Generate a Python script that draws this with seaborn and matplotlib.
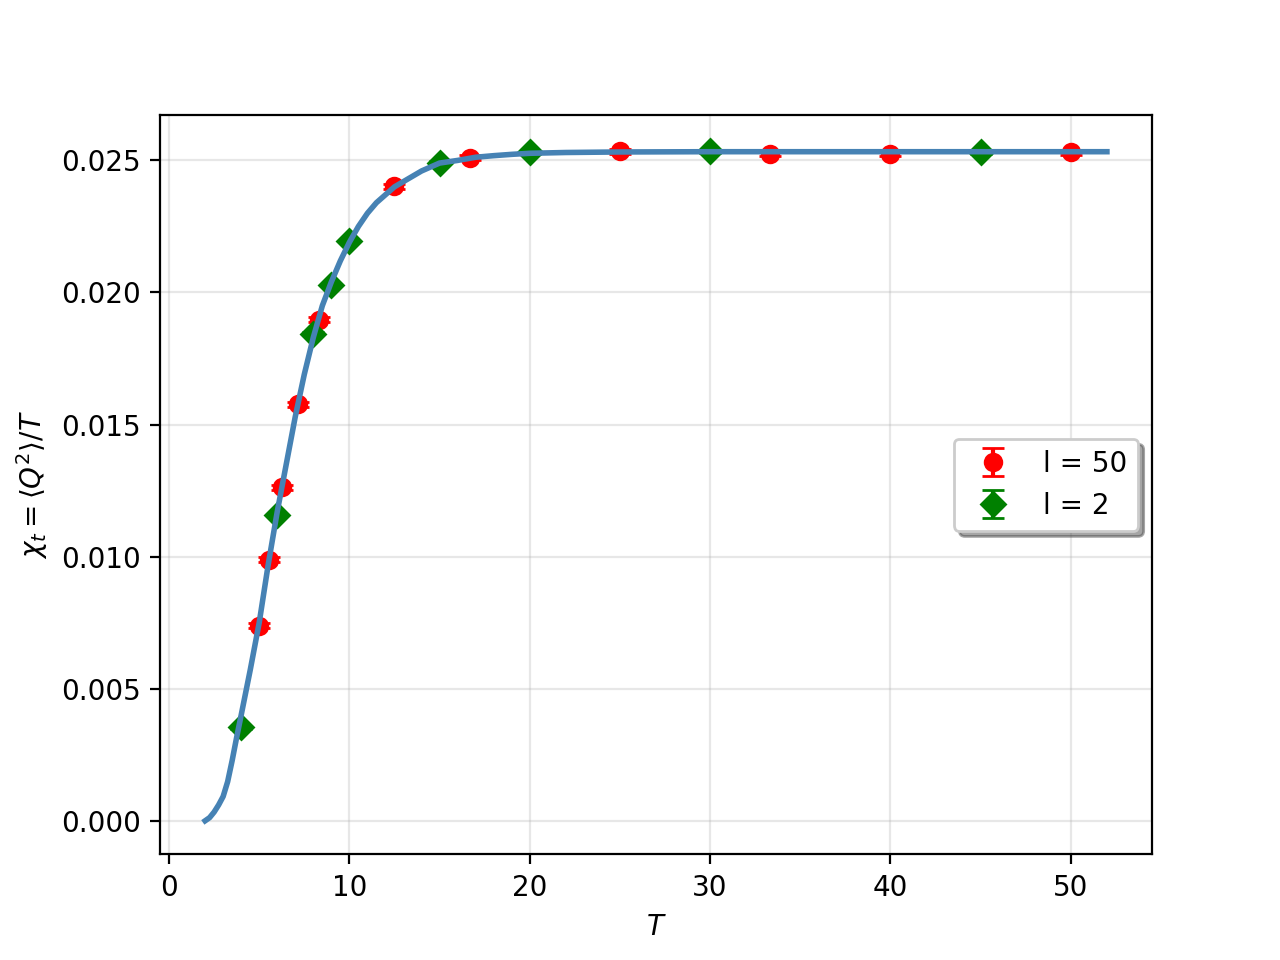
import matplotlib
matplotlib.use('Agg')
import matplotlib.pyplot as plt
import numpy as np
import pandas as pd
import seaborn as sns

# l = 50 measurements
T_50 = [5.0, 5.56, 6.25, 7.14, 8.33, 12.5, 16.67, 25.0, 33.33, 40.0, 50.0]
chi_50 = [0.00739, 0.00988, 0.01263, 0.01576, 0.01897, 0.02402, 0.02511, 0.02534, 0.02526, 0.02526, 0.02530]
err_50 = [0.0001] * len(T_50)

# l = 2 measurements
T_2 = [4.0, 6.0, 8.0, 9.0, 10.0, 15.0, 20.0, 30.0, 45.0]
chi_2 = [0.00354, 0.01158, 0.01844, 0.02029, 0.02195, 0.02492, 0.02530, 0.02534, 0.02530]
err_2 = [0.00005] * len(T_2)

# fit curve
T_fit = [2.0, 2.25, 2.5, 2.75, 3.0, 3.25, 3.5, 3.75, 4.0, 4.5, 5.0, 5.5, 6.0, 6.5, 7.0,
         7.5, 8.0, 8.5, 9.0, 9.5, 10.0, 10.5, 11.0, 11.5, 12.0, 12.5, 13.0, 14.0, 15.0,
         16.0, 17.0, 18.0, 19.0, 20.0, 22.0, 25.0, 30.0, 40.0, 52.0]
chi_fit = [0.0000, 0.00012, 0.00033, 0.00060, 0.00092, 0.00148, 0.00228, 0.00316, 0.00400,
           0.0057, 0.0075, 0.0097, 0.0117, 0.0135, 0.0153, 0.0169, 0.0183, 0.0195, 0.0204,
           0.0212, 0.0219, 0.0225, 0.0230, 0.0234, 0.0237, 0.0240, 0.0242, 0.0246, 0.0249,
           0.0250, 0.02512, 0.02518, 0.02523, 0.02527, 0.0253, 0.02532, 0.02533, 0.02533, 0.02533]

fit = pd.DataFrame({'T': T_fit, 'chi': chi_fit})

fig, ax = plt.subplots(figsize=(6.4, 4.8), dpi=200)

ax.errorbar(T_50, chi_50, yerr=err_50, fmt='o', color='red', capsize=4, label='l = 50')
ax.errorbar(T_2, chi_2, yerr=err_2, fmt='D', color='green', capsize=4, label='l = 2')
sns.lineplot(data=fit, x='T', y='chi', color='steelblue', linewidth=2, ax=ax, zorder=3)

ax.grid(True, alpha=0.3)
ax.set_xlabel('$T$')
ax.set_ylabel(r'$\chi_t = \langle Q^2 \rangle / T$')
ax.legend(loc='center right', shadow=True)

plt.savefig('out.png')
